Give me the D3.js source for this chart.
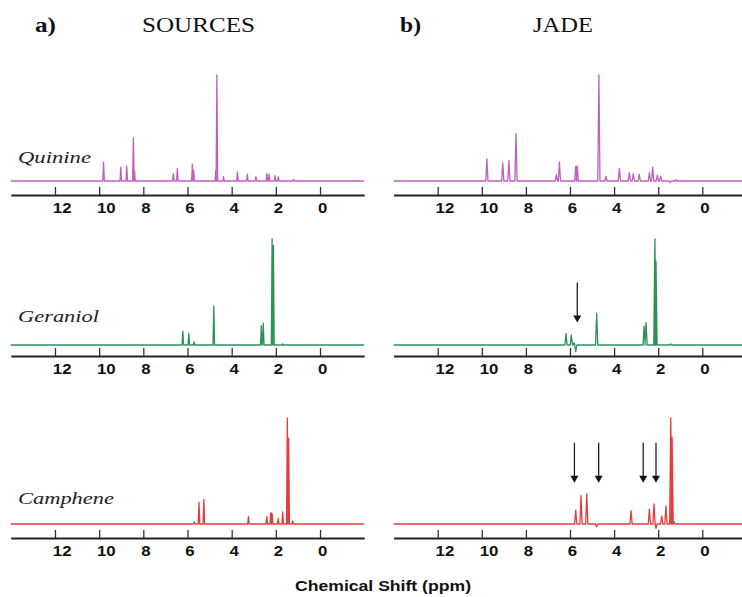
<!DOCTYPE html>
<html>
<head>
<meta charset="utf-8">
<script src="https://cdn.jsdelivr.net/npm/d3@7"></script>
<style>
  body { margin: 0; background: #fff; }
  svg { display: block; }
</style>
</head>
<body>
<script>
// peak lists: [ppm, relative intensity], tallest peak = 100
const compounds = ["Quinine", "Geraniol", "Camphene"];
const quinineSources = [[9.80, 18], [9.02, 13], [8.75, 14], [8.45, 41], [8.40, 10], [6.64, 7], [6.46, 12],
  [5.78, 16], [5.72, 10], [4.72, 10], [4.67, 100], [4.37, 4], [3.74, 8.5], [3.29, 6.5], [2.90, 4],
  [2.41, 7], [2.31, 6.5], [2.04, 5], [1.89, 4], [1.20, 1.5]];
const quinineJade = [[9.77, 21], [9.05, 17], [8.77, 19.5], [8.45, 45], [6.62, 6], [6.48, 18], [5.74, 14],
  [5.67, 14], [4.69, 100], [4.37, 4.5], [3.76, 12], [3.31, 8], [3.13, 7], [2.86, 6.5], [2.40, 8],
  [2.25, 13], [2.04, 5.5], [1.89, 4.5], [1.46, -1.5], [1.19, 1.2]];
const geraniolSources = [[6.21, 13], [5.94, 11], [5.70, 3], [4.81, 37], [2.66, 18], [2.57, 20.5],
  [2.17, 100], [2.11, 94], [1.69, 1]];
const geraniolJade = [[6.18, 11], [5.94, 9.5], [5.82, 2], [5.74, -6.3], [4.79, 30], [2.64, 18], [2.55, 21],
  [2.15, 100], [2.10, 79], [1.43, 1]];
const campheneSources = [[5.69, 2], [5.48, 20.5], [5.26, 23.3], [3.24, 7], [2.41, 7], [2.23, 10.7],
  [2.17, 10], [1.89, 5.4], [1.69, 11.3], [1.48, 100], [1.42, 81], [1.24, 3]];
const campheneJade = [[5.74, 13], [5.50, 26.7], [5.24, 28.3], [4.79, -2.5], [3.23, 12.5], [2.40, 14],
  [2.19, 19], [2.10, -4], [1.84, 7.5], [1.65, 17], [1.43, 100], [1.37, 82], [1.28, 2]];
const geraniolJadeArrows = [5.67];
const campheneJadeArrows = [5.80, 4.70, 2.68, 2.10];
const tickLabels = [12, 10, 8, 6, 4, 2, 0];
const ppmDomain = [14, -2];

const W = 742, H = 597;
const colors = ["#c060b8", "#2f9158", "#e43c3c"];
const baselines = [181, 345, 524];
const axisYs = [195, 356, 538];
const labelYs = [163, 322, 504];
const labelLens = [73, 81, 96];
const peakH = 106;

const svg = d3.select("body").append("svg").attr("width", W).attr("height", H);
svg.append("rect").attr("width", W).attr("height", H).attr("fill", "#fff");

let xLeft = d3.scaleLinear().domain(ppmDomain).range([10.8, 364.2]);
let xRight = d3.scaleLinear().domain(ppmDomain).range([393.6, 746.4]);

function spectrumPoints(peaks, hw) {
  let pts = [[ppmDomain[0], 0]];
  peaks.slice().sort((a, b) => b[0] - a[0]).forEach(p => {
    pts.push([p[0] + hw, 0], [p[0], p[1]], [p[0] - hw, 0]);
  });
  pts.push([ppmDomain[1], 0]);
  return pts;
}

function drawPanel(x, peaks, row, hw, arrows) {
  let y = d3.scaleLinear().domain([0, 100]).range([baselines[row], baselines[row] - peakH]);
  let line = d3.line().x(d => x(d[0])).y(d => y(d[1]));
  svg.append("path")
    .attr("d", line(spectrumPoints(peaks, hw)))
    .attr("fill", "none")
    .attr("stroke", colors[row])
    .attr("stroke-width", 1.3)
    .attr("stroke-linejoin", "round");

  let axis = d3.axisBottom(x).tickValues(tickLabels).tickSize(-8).tickSizeOuter(0).tickPadding(8);
  let g = svg.append("g").attr("transform", "translate(0," + axisYs[row] + ")").call(axis);
  g.select(".domain").attr("stroke", "#222").attr("stroke-width", 2);
  g.selectAll(".tick line").attr("stroke", "#333").attr("stroke-width", 1.3);
  g.selectAll(".tick text")
    .attr("fill", "#111")
    .attr("font-family", "'Liberation Sans', Arial, sans-serif")
    .attr("font-weight", "bold")
    .attr("font-size", 14)
    .attr("text-anchor", "start")
    .attr("x", -2.2)
    .attr("transform", "scale(1.2,1)");

  if (arrows) {
    let tip = row == 1 ? 21.3 : 39;
    arrows.forEach(a => {
      let ax = x(a), ay = y(tip);
      svg.append("line").attr("x1", ax).attr("x2", ax).attr("y1", ay - 40).attr("y2", ay - 5)
        .attr("stroke", "#222").attr("stroke-width", 1.3);
      svg.append("path").attr("d", `M${ax - 4},${ay - 7}L${ax + 4},${ay - 7}L${ax},${ay}Z`).attr("fill", "#111");
    });
  }
}

drawPanel(xLeft, quinineSources, 0, 0.035);
drawPanel(xRight, quinineJade, 0, 0.05);
drawPanel(xLeft, geraniolSources, 1, 0.035);
drawPanel(xRight, geraniolJade, 1, 0.05, geraniolJadeArrows);
drawPanel(xLeft, campheneSources, 2, 0.035);
drawPanel(xRight, campheneJade, 2, 0.05, campheneJadeArrows);

// compound names
compounds.forEach((c, i) => {
  svg.append("text").text(c)
    .attr("x", 18).attr("y", labelYs[i])
    .attr("font-family", "'Liberation Serif', 'Times New Roman', serif")
    .attr("font-style", "italic")
    .attr("font-size", 17)
    .attr("fill", "#222")
    .attr("textLength", labelLens[i])
    .attr("lengthAdjust", "spacingAndGlyphs");
});

// panel titles
let serif = "'Liberation Serif', 'Times New Roman', serif";
svg.append("text").text("a)").attr("x", 35).attr("y", 32).attr("font-family", serif)
  .attr("font-weight", "bold").attr("font-size", 20).attr("fill", "#111")
  .attr("textLength", 21).attr("lengthAdjust", "spacingAndGlyphs");
svg.append("text").text("b)").attr("x", 400).attr("y", 32).attr("font-family", serif)
  .attr("font-weight", "bold").attr("font-size", 20).attr("fill", "#111")
  .attr("textLength", 21).attr("lengthAdjust", "spacingAndGlyphs");
svg.append("text").text("SOURCES").attr("x", 142).attr("y", 32).attr("font-family", serif)
  .attr("font-size", 21).attr("fill", "#111")
  .attr("textLength", 113).attr("lengthAdjust", "spacingAndGlyphs");
svg.append("text").text("JADE").attr("x", 533).attr("y", 32).attr("font-family", serif)
  .attr("font-size", 21).attr("fill", "#111")
  .attr("textLength", 60).attr("lengthAdjust", "spacingAndGlyphs");

svg.append("text").text("Chemical Shift (ppm)")
  .attr("x", 295).attr("y", 591)
  .attr("font-family", "'Liberation Sans', Arial, sans-serif")
  .attr("font-weight", "bold").attr("font-size", 14).attr("fill", "#111")
  .attr("textLength", 176).attr("lengthAdjust", "spacingAndGlyphs");
</script>
</body>
</html>
